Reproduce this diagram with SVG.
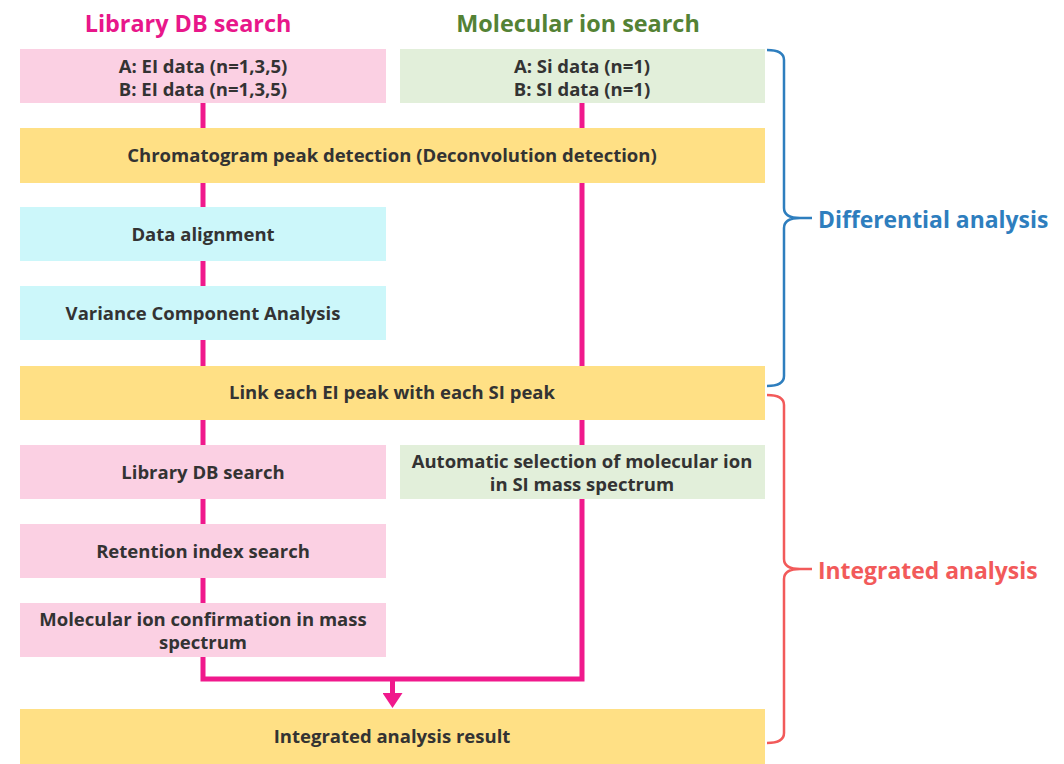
<svg xmlns="http://www.w3.org/2000/svg" width="1064" height="764" viewBox="0 0 1064 764">
<defs>
<style>
.pink{fill:#FBD0E3}
.green{fill:#E2EFDA}
.yellow{fill:#FFE085}
.cyan{fill:#CCF7FA}
.lbl{font-family:"Open Sans","Noto Sans",sans-serif;font-weight:700;font-size:18.5px;fill:#333333;text-anchor:middle}
.title{font-family:"Open Sans","Noto Sans",sans-serif;font-weight:700;font-size:23.4px;text-anchor:middle}
.side{font-family:"Open Sans","Noto Sans",sans-serif;font-weight:700;font-size:22.9px}
.conn{fill:none;stroke:#F0198C;stroke-width:5}
.brace{fill:none;stroke-width:2.5;stroke-linejoin:round}
</style>
<marker id="arr" markerWidth="4" markerHeight="4" refX="0" refY="2" orient="auto" markerUnits="strokeWidth"><path d="M0,0 L3,2 L0,4 z" fill="#F0198C"/></marker>
</defs>
<rect width="1064" height="764" fill="#ffffff"/>
<text class="title" x="188" y="32" fill="#E8178A">Library DB search</text>
<text class="title" x="578" y="32" fill="#548235">Molecular ion search</text>
<g id="connectors">
<line class="conn" x1="203" y1="103" x2="203" y2="128"/>
<line class="conn" x1="203" y1="183" x2="203" y2="207"/>
<line class="conn" x1="203" y1="261" x2="203" y2="286"/>
<line class="conn" x1="203" y1="340" x2="203" y2="366"/>
<line class="conn" x1="203" y1="420" x2="203" y2="445"/>
<line class="conn" x1="203" y1="499" x2="203" y2="524"/>
<line class="conn" x1="203" y1="578" x2="203" y2="603"/>
<line class="conn" x1="582" y1="103" x2="582" y2="128"/>
<line class="conn" x1="582" y1="183" x2="582" y2="366"/>
<line class="conn" x1="582" y1="420" x2="582" y2="445"/>
<polyline class="conn" points="203,657 203,679 582,679 582,499"/>
<line class="conn" x1="392.5" y1="679" x2="392.5" y2="693" marker-end="url(#arr)"/>
</g>
<g id="n-ei"><rect class="pink" x="20" y="49" width="366" height="54"/><text class="lbl" x="203" y="73">A: EI data (n=1,3,5)</text><text class="lbl" x="203" y="96">B: EI data (n=1,3,5)</text></g>
<g id="n-si"><rect class="green" x="400" y="49" width="365" height="54"/><text class="lbl" x="582" y="73">A: Si data (n=1)</text><text class="lbl" x="582" y="96">B: SI data (n=1)</text></g>
<g id="n-chrom"><rect class="yellow" x="20" y="128" width="745" height="55"/><text class="lbl" x="392" y="162">Chromatogram peak detection (Deconvolution detection)</text></g>
<g id="n-align"><rect class="cyan" x="20" y="207" width="366" height="54"/><text class="lbl" x="203" y="241">Data alignment</text></g>
<g id="n-variance"><rect class="cyan" x="20" y="286" width="366" height="54"/><text class="lbl" x="203" y="320">Variance Component Analysis</text></g>
<g id="n-link"><rect class="yellow" x="20" y="366" width="745" height="54"/><text class="lbl" x="392" y="399">Link each EI peak with each SI peak</text></g>
<g id="n-libdb"><rect class="pink" x="20" y="445" width="366" height="54"/><text class="lbl" x="203" y="479">Library DB search</text></g>
<g id="n-auto"><rect class="green" x="400" y="445" width="365" height="54"/><text class="lbl" x="582" y="468">Automatic selection of molecular ion</text><text class="lbl" x="582" y="491">in SI mass spectrum</text></g>
<g id="n-ri"><rect class="pink" x="20" y="524" width="366" height="54"/><text class="lbl" x="203" y="558">Retention index search</text></g>
<g id="n-molconf"><rect class="pink" x="20" y="603" width="366" height="54"/><text class="lbl" x="203" y="626">Molecular ion confirmation in mass</text><text class="lbl" x="203" y="649">spectrum</text></g>
<g id="n-result"><rect class="yellow" x="20" y="709" width="745" height="55"/><text class="lbl" x="392" y="743">Integrated analysis result</text></g>
<g id="brace-diff">
<path class="brace" stroke="#2E7EBE" d="M767,50 Q784,50 784,60 L784,208 Q784,218 800,218 L812,218 M800,218 Q784,218 784,228 L784,376 Q784,386 767,386"/>
<text class="side" x="818" y="228" fill="#2E7EBE">Differential analysis</text>
</g>
<g id="brace-int">
<path class="brace" stroke="#F25A5A" d="M767,395 Q784,395 784,405 L784,559 Q784,569 800,569 L812,569 M800,569 Q784,569 784,579 L784,733 Q784,743 767,743"/>
<text class="side" x="818" y="579" fill="#F25A5A">Integrated analysis</text>
</g>
</svg>
